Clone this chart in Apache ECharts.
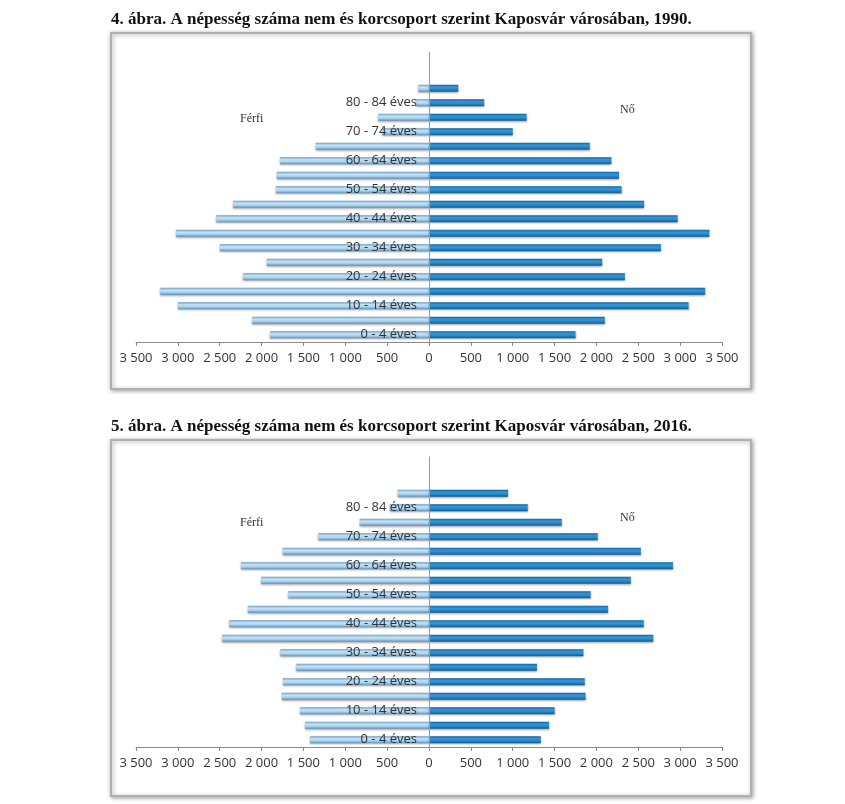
<!DOCTYPE html>
<html>
<head>
<meta charset="utf-8">
<script src="https://cdn.jsdelivr.net/npm/echarts@6/dist/echarts.min.js"></script>
<style>
html,body{margin:0;padding:0;background:#fff;}
#c{width:845px;height:804px;}
</style>
</head>
<body>
<div id="c"></div>
<script>
const categories = ['0 - 4 éves','5 - 9 éves','10 - 14 éves','15 - 19 éves','20 - 24 éves','25 - 29 éves','30 - 34 éves','35 - 39 éves','40 - 44 éves','45 - 49 éves','50 - 54 éves','55 - 59 éves','60 - 64 éves','65 - 69 éves','70 - 74 éves','75 - 79 éves','80 - 84 éves','85 - éves'];
const male1990   = [1900, 2110, 3000, 3210, 2220, 1940, 2500, 3020, 2540, 2340, 1830, 1820, 1780, 1355, 560, 605, 160, 127];
const female1990 = [1750, 2100, 3100, 3300, 2340, 2070, 2770, 3350, 2970, 2570, 2300, 2270, 2180, 1920, 1000, 1165, 660, 350];
const male2016   = [1420, 1480, 1540, 1760, 1745, 1585, 1775, 2470, 2385, 2165, 1680, 2005, 2245, 1750, 1320, 830, 470, 375];
const female2016 = [1335, 1435, 1500, 1870, 1860, 1290, 1845, 2680, 2565, 2140, 1930, 2410, 2915, 2530, 2015, 1585, 1180, 945];
const titles = ['4. ábra. A népesség száma nem és korcsoport szerint Kaposvár városában, 1990.',
                '5. ábra. A népesség száma nem és korcsoport szerint Kaposvár városában, 2016.'];
const sexLabels = ['Férfi', 'Nő'];

const chart = echarts.init(document.getElementById('c'), null, {renderer:'canvas'});

function fmt(v){
  const a = Math.abs(v);
  return a >= 1000 ? Math.floor(a/1000) + ' ' + String(a%1000).padStart(3,'0') : String(a);
}
const maleColor = new echarts.graphic.LinearGradient(0,0,0,1,[
  {offset:0,color:'#6f9fc6'},{offset:0.35,color:'#c4e2f5'},{offset:0.65,color:'#a9d2ee'},{offset:1,color:'#5e8fb8'}]);
const femaleColor = new echarts.graphic.LinearGradient(0,0,0,1,[
  {offset:0,color:'#16639f'},{offset:0.35,color:'#3497d6'},{offset:0.65,color:'#2387c9'},{offset:1,color:'#12578f'}]);

const gridTops = [52, 457];
const frameTops = [33, 440];
const datasets = [[male1990, female1990],[male2016, female2016]];
const zeroX = 429;

const grids = [], xAxes = [], yAxes = [], series = [], titleArr = [], graphics = [];
const axisLabelStyle = {fontFamily:'Open Sans', fontSize:13, color:'#333', margin:10};
gridTops.forEach((top, i) => {
  // male grid (left half) and female grid (right half)
  const gm = grids.length;
  grids.push({left:136, right:845 - zeroX, top:top, height:290});
  const gf = grids.length;
  grids.push({left:zeroX, right:123, top:top, height:290});

  xAxes.push({
    type:'value', gridIndex:gm, min:0, max:3500, interval:500, inverse:true,
    splitLine:{show:false},
    axisLine:{show:true, onZero:false, lineStyle:{color:'#8a8a8a', width:1}},
    axisTick:{show:true, length:4, lineStyle:{color:'#8a8a8a'}},
    axisLabel:Object.assign({formatter:fmt, showMinLabel:false}, axisLabelStyle)
  });
  xAxes.push({
    type:'value', gridIndex:gf, min:0, max:3500, interval:500,
    splitLine:{show:false},
    axisLine:{show:true, onZero:false, lineStyle:{color:'#8a8a8a', width:1}},
    axisTick:{show:true, length:4, lineStyle:{color:'#8a8a8a'}},
    axisLabel:Object.assign({formatter:fmt}, axisLabelStyle)
  });
  yAxes.push({
    type:'category', gridIndex:gm, data:categories, max:19, position:'right',
    axisLine:{show:false}, axisTick:{show:false}, axisLabel:{show:false}
  });
  yAxes.push({
    type:'category', gridIndex:gf, data:categories, max:19, position:'left', z:5,
    axisLine:{show:true, onZero:false, lineStyle:{color:'#9a9a9a', width:1}},
    axisTick:{show:false},
    axisLabel:{interval:1, margin:12, fontFamily:'Open Sans', fontSize:13, color:'#333',
      formatter:v => (v == null ? '' : v)}
  });
  series.push({
    type:'bar', xAxisIndex:gm, yAxisIndex:gm, data:datasets[i][0],
    barWidth:7,
    itemStyle:{color:maleColor, shadowBlur:2, shadowColor:'rgba(0,0,0,0.35)', shadowOffsetY:1}
  });
  series.push({
    type:'bar', xAxisIndex:gf, yAxisIndex:gf, data:datasets[i][1],
    barWidth:7,
    itemStyle:{color:femaleColor, shadowBlur:2, shadowColor:'rgba(0,0,0,0.35)', shadowOffsetY:1}
  });
  titleArr.push({
    text:titles[i], left:106, top:frameTops[i]-27,
    textStyle:{fontFamily:'Liberation Serif', fontWeight:'bold', fontSize:17, color:'#111'}
  });
  graphics.push({
    type:'rect', z:-10, shape:{x:111, y:frameTops[i], width:640, height:356},
    style:{fill:'#fff', stroke:'#b0b0b0', lineWidth:2, shadowBlur:4, shadowColor:'rgba(0,0,0,0.35)', shadowOffsetX:1, shadowOffsetY:1}
  });
  graphics.push({
    type:'text', left:240, top:top + (i===1 ? 60 : 61),
    style:{text:sexLabels[0], font:'12px "Liberation Serif"', fill:'#333'}
  });
  graphics.push({
    type:'text', left:620, top:top+52 + (i===1?3:0),
    style:{text:sexLabels[1], font:'12px "Liberation Serif"', fill:'#333'}
  });
});

chart.setOption({
  backgroundColor:'#fff',
  animation:false,
  title:titleArr,
  grid:grids, xAxis:xAxes, yAxis:yAxes, series:series,
  graphic:graphics
});
</script>
</body>
</html>
